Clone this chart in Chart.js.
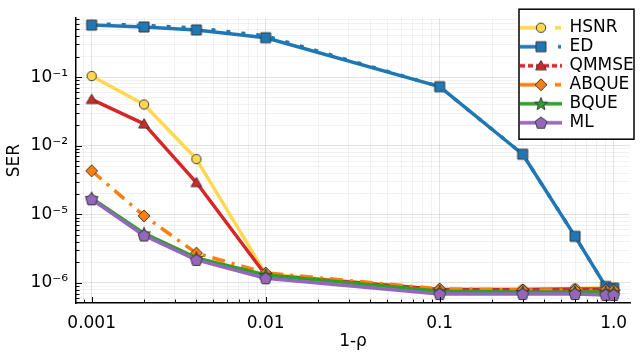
<!DOCTYPE html>
<html>
<head>
<meta charset="utf-8">
<script src="https://cdn.jsdelivr.net/npm/chart.js@4"></script>
<style>
html,body{margin:0;padding:0;background:#fff;}
#wrap{width:640px;height:355px;}
</style>
</head>
<body>
<div id="wrap"><canvas id="c" width="640" height="355"></canvas></div>
<script>
// ---------------- data ----------------
const xValues  = [0.001, 0.002, 0.004, 0.01, 0.1, 0.3, 0.6, 0.9, 1.0];
const hsnrSER  = [0.104, 0.040, 0.0064, 1.36e-4, 8.0e-5, 8.0e-5, 8.3e-5, 8.5e-5, 8.3e-5];
const edSER    = [0.575, 0.54, 0.489, 0.376, 0.0727, 0.00753, 0.000478, 8.9e-5, 8.4e-5];
const edDotSER = [0.60, 0.57, 0.52, 0.40, 0.0727, 0.00753, 0.000478, 8.9e-5, 8.4e-5];
const qmmseSER = [0.0474, 0.0209, 0.00291, 1.31e-4, 8.0e-5, 8.0e-5, 8.2e-5, 8.2e-5, 8.2e-5];
const abqueSER = [0.00432, 0.00095, 0.000272, 1.40e-4, 8.2e-5, 7.9e-5, 7.9e-5, 7.9e-5, 7.9e-5];
const bqueSER  = [0.00172, 0.000527, 0.000232, 1.31e-4, 7.6e-5, 7.4e-5, 7.4e-5, 7.4e-5, 7.4e-5];
const mlSER    = [0.00166, 0.000493, 0.000217, 1.17e-4, 6.9e-5, 6.9e-5, 6.9e-5, 6.7e-5, 6.7e-5];
const seriesLabels = ['HSNR', 'ED', 'QMMSE', 'ABQUE', 'BQUE', 'ML'];
const xTickValues = [0.001, 0.01, 0.1, 1];
const xTickLabels = ['0.001', '0.01', '0.1', '1.0'];
const yTickValues = [1e-1, 1e-2, 1e-3, 1e-4];
const yTickLabels = ['10\u207B\u00B9', '10\u207B\u00B2', '10\u207B\u2075', '10\u207B\u2076'];
const xTitle = '1-\u03C1';
const yTitle = 'SER';

// ---------------- styles ----------------
const FONT = 'DejaVu Sans';
Chart.defaults.font.family = FONT;
Chart.defaults.font.size = 17;
Chart.defaults.color = '#000';

const styleOf = {
  HSNR:  {color: '#ffd84f', marker: 'circle',   legendLine: 'dashdot', dash: []},
  ED:    {color: '#1f77b4', marker: 'square',   legendLine: 'dashdot2', dash: []},
  QMMSE: {color: '#d62728', marker: 'triangle', legendLine: 'dash', dash: []},
  ABQUE: {color: '#ff7f0e', marker: 'diamond',  legendLine: 'dashdot', dash: [13, 7, 3, 7]},
  BQUE:  {color: '#2ca02c', marker: 'star',     legendLine: 'solid', dash: []},
  ML:    {color: '#9467bd', marker: 'pentagon', legendLine: 'solid', dash: []}
};
const seriesData = {HSNR: hsnrSER, ED: edSER, QMMSE: qmmseSER, ABQUE: abqueSER, BQUE: bqueSER, ML: mlSER};

function markerCanvas(shape, fill) {
  const S = 16, m = S / 2;
  const c = document.createElement('canvas');
  c.width = S; c.height = S;
  const g = c.getContext('2d');
  g.beginPath();
  if (shape === 'circle') {
    g.arc(m, m, 4.7, 0, Math.PI * 2);
  } else if (shape === 'square') {
    g.rect(m - 5, m - 5, 10, 10);
  } else if (shape === 'triangle') {
    const r = 6.2;
    for (let k = 0; k < 3; k++) {
      const a = -Math.PI / 2 + k * 2 * Math.PI / 3;
      const px = m + r * Math.cos(a), py = m + 1 + r * Math.sin(a);
      k ? g.lineTo(px, py) : g.moveTo(px, py);
    }
  } else if (shape === 'diamond') {
    g.moveTo(m, m - 6); g.lineTo(m + 6, m); g.lineTo(m, m + 6); g.lineTo(m - 6, m);
  } else if (shape === 'star') {
    for (let k = 0; k < 10; k++) {
      const r = k % 2 ? 2.8 : 6.8;
      const a = -Math.PI / 2 + k * Math.PI / 5;
      const px = m + r * Math.cos(a), py = m + 0.5 + r * Math.sin(a);
      k ? g.lineTo(px, py) : g.moveTo(px, py);
    }
  } else if (shape === 'pentagon') {
    const r = 6.2;
    for (let k = 0; k < 5; k++) {
      const a = -Math.PI / 2 + k * 2 * Math.PI / 5;
      const px = m + r * Math.cos(a), py = m + 0.5 + r * Math.sin(a);
      k ? g.lineTo(px, py) : g.moveTo(px, py);
    }
  }
  g.closePath();
  g.fillStyle = fill; g.fill();
  g.strokeStyle = '#3a3a3a'; g.lineWidth = 1; g.stroke();
  return c;
}

function legendCanvas(name) {
  const st = styleOf[name];
  const W = 42, H = 16, cy = 8;
  const c = document.createElement('canvas');
  c.width = W; c.height = H;
  const g = c.getContext('2d');
  g.strokeStyle = st.color; g.lineWidth = 3.5; g.lineCap = 'butt';
  g.beginPath();
  if (st.legendLine === 'solid') {
    g.moveTo(0, cy); g.lineTo(W, cy);
  } else if (st.legendLine === 'dashdot') {
    g.moveTo(0, cy); g.lineTo(21, cy); g.moveTo(35, cy); g.lineTo(41, cy);
  } else if (st.legendLine === 'dashdot2') {
    g.moveTo(0, cy); g.lineTo(21, cy); g.moveTo(38, cy); g.lineTo(41, cy);
  } else if (st.legendLine === 'dash') {
    g.setLineDash([5, 3]);
    g.moveTo(0, cy); g.lineTo(W, cy);
  }
  g.stroke();
  g.setLineDash([]);
  g.drawImage(markerCanvas(st.marker, st.color), W / 2 - 8, cy - 8);
  return c;
}

const isDecade = v => Math.abs(Math.log10(v) - Math.round(Math.log10(v))) < 1e-6;
function logTicks(min, max) {
  const out = [];
  for (let e = Math.floor(Math.log10(min)); e <= Math.ceil(Math.log10(max)); e++) {
    for (let k = 1; k <= 9; k++) {
      const v = k * Math.pow(10, e);
      if (v >= min * 0.9999 && v <= max * 1.0001) out.push({value: v});
    }
  }
  return out;
}
function lookupLabel(values, labels, v) {
  for (let i = 0; i < values.length; i++) {
    if (Math.abs(Math.log10(values[i]) - Math.log10(v)) < 1e-6) return labels[i];
  }
  return '';
}

// ---------------- datasets ----------------
const drawOrder = {HSNR: 7, ED: 6, QMMSE: 4, ABQUE: 3, BQUE: 2, ML: 1};
const datasets = seriesLabels.map(name => {
  const st = styleOf[name];
  return {
    label: name,
    data: xValues.map((x, i) => ({x: x, y: seriesData[name][i]})),
    borderColor: st.color,
    backgroundColor: st.color,
    borderWidth: 3.5,
    borderDash: st.dash,
    borderCapStyle: 'butt',
    borderJoinStyle: 'round',
    pointStyle: markerCanvas(st.marker, st.color),
    pointRadius: 6,
    pointHoverRadius: 6,
    order: drawOrder[name],
    tension: 0
  };
});
datasets.push({
  label: 'ED (dotted)',
  data: xValues.map((x, i) => ({x: x, y: edDotSER[i]})),
  borderColor: styleOf.ED.color,
  borderWidth: 3.5,
  borderDash: [4, 11],
  borderCapStyle: 'butt',
  pointRadius: 0,
  order: 5,
  tension: 0
});

const legendImgs = seriesLabels.map(legendCanvas);

// ---------------- plugins ----------------
const legendBoxPlugin = {
  id: 'legendBox',
  afterLayout(chart) {
    const lg = chart.legend;
    if (!lg) return;
    const a = chart.chartArea;
    const h = lg.height;
    lg.left = a.right - 111;
    lg.right = lg.left + lg.width;
    lg.top = a.top - 1;
    lg.bottom = lg.top + h;
    if (!lg._boxWrapped) {
      const proto = Object.getPrototypeOf(lg);
      lg.draw = function () {
        const ctx = this.ctx;
        const ca = this.chart.chartArea;
        const x0 = this.left, y0 = this.top - 8;
        const w = ca.right + 4 - x0, hh = 130;
        ctx.save();
        ctx.fillStyle = '#fff';
        ctx.fillRect(x0, y0, w, hh);
        ctx.strokeStyle = '#000';
        ctx.lineWidth = 1.5;
        ctx.strokeRect(x0, y0, w, hh);
        ctx.restore();
        proto.draw.call(this);
      };
      lg._boxWrapped = true;
    }
  }
};

const innerTicksPlugin = {
  id: 'innerTicks',
  afterDraw(chart) {
    const ctx = chart.ctx, a = chart.chartArea;
    const xs = chart.scales.x, ys = chart.scales.y;
    ctx.save();
    ctx.strokeStyle = '#000';
    ctx.lineWidth = 1;
    ctx.beginPath();
    xs.ticks.forEach(t => {
      const p = Math.round(xs.getPixelForValue(t.value)) + 0.5;
      const L = isDecade(t.value) ? 6 : 3.5;
      ctx.moveTo(p, a.bottom); ctx.lineTo(p, a.bottom - L);
    });
    ys.ticks.forEach(t => {
      const p = Math.round(ys.getPixelForValue(t.value)) + 0.5;
      const L = isDecade(t.value) ? 6 : 3.5;
      ctx.moveTo(a.left, p); ctx.lineTo(a.left + L, p);
    });
    ctx.stroke();
    ctx.restore();
  }
};

const gridColor = c => (c.tick && isDecade(c.tick.value)) ? 'rgba(0,0,0,0.11)' : 'rgba(0,0,0,0.05)';

new Chart(document.getElementById('c'), {
  type: 'line',
  data: {datasets: datasets},
  plugins: [legendBoxPlugin, innerTicksPlugin],
  options: {
    responsive: false,
    animation: false,
    events: [],
    layout: {padding: {left: 0, top: 12, right: 10, bottom: 0}},
    plugins: {
      tooltip: {enabled: false},
      legend: {
        display: true,
        position: 'chartArea',
        align: 'start',
        labels: {
          usePointStyle: true,
          pointStyleWidth: 40,
          padding: 2,
          color: '#000',
          font: {size: 17, family: FONT},
          generateLabels: () => seriesLabels.map((name, i) => ({
            text: name,
            pointStyle: legendImgs[i],
            fillStyle: styleOf[name].color,
            strokeStyle: styleOf[name].color,
            lineWidth: 0,
            hidden: false,
            datasetIndex: i,
            fontColor: '#000'
          }))
        }
      }
    },
    scales: {
      x: {
        type: 'logarithmic',
        min: Math.pow(10, -3.09),
        max: Math.pow(10, 0.094),
        afterBuildTicks: s => { s.ticks = logTicks(s.min, s.max); },
        afterFit: s => { s.height = 52; },
        ticks: {
          autoSkip: false,
          maxRotation: 0,
          padding: 10,
          color: '#000',
          font: {size: 17, family: FONT},
          callback: v => lookupLabel(xTickValues, xTickLabels, v)
        },
        grid: {drawTicks: false, color: gridColor, lineWidth: 1},
        border: {display: true, color: '#000', width: 1.5},
        title: {display: true, text: xTitle, color: '#000', font: {size: 17, family: FONT}, padding: {top: 0, bottom: 3}}
      },
      y: {
        type: 'logarithmic',
        min: Math.pow(10, -4.292),
        max: Math.pow(10, -0.14),
        afterBuildTicks: s => { s.ticks = logTicks(s.min, s.max); },
        afterFit: s => { s.width = 76; },
        ticks: {
          autoSkip: false,
          padding: 8,
          color: '#000',
          font: {size: 17, family: FONT},
          callback: v => lookupLabel(yTickValues, yTickLabels, v)
        },
        grid: {drawTicks: false, color: gridColor, lineWidth: 1},
        border: {display: true, color: '#000', width: 1.5},
        title: {display: true, text: yTitle, color: '#000', font: {size: 17, family: FONT}, padding: {top: 4, bottom: 0}}
      }
    }
  }
});
</script>
</body>
</html>
